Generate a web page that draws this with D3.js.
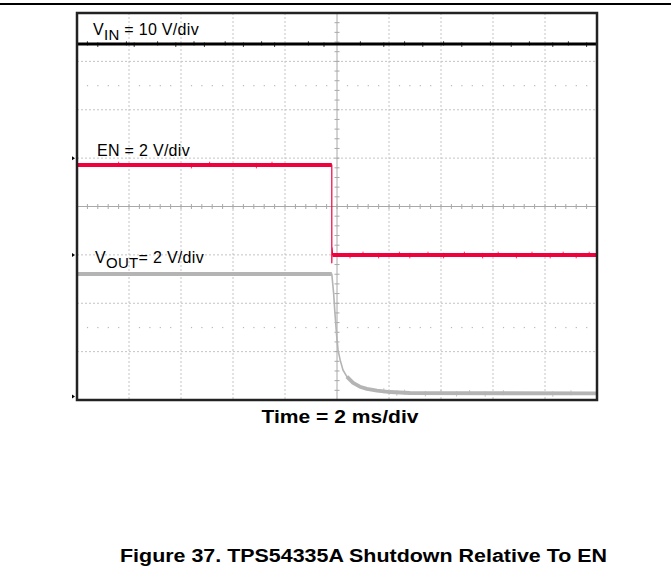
<!DOCTYPE html>
<html>
<head>
<meta charset="utf-8">
<script src="https://cdn.jsdelivr.net/npm/d3@7"></script>
<style>
  body { margin: 0; background: #fff; }
  text { font-family: "Liberation Sans", Arial, sans-serif; }
</style>
</head>
<body>
<div class="div_d3"></div>
<script>
// time axis in ms, 2 ms/div, trigger in the middle
const timeDomain = [-10, 10]
const divDomain = [-4, 4]

// channels: volts per division and ground marker position (div)
const channelNames = ["VIN", "EN", "VOUT"]
const voltsPerDiv = [10, 2, 2]
const groundDiv = [1, -1, -3.93]
const traceColors = ["#000000", "#f0003c", "#b4b4b4"]

// VIN stays flat
const vinTime = [-10, 10]
const vinVolts = [23.6, 23.6]

// EN drops just before the trigger
const enTime = [-10, -0.2, -0.2, -0.19, -0.17, 10]
const enVolts = [3.72, 3.72, -0.33, 0.3, 0.0, 0.0]

// VOUT discharge
const voutTime = [-10, -0.2, -0.13, -0.08, -0.01, 0.04, 0.12, 0.23, 0.38, 0.62, 0.88, 1.15, 1.54, 2.04, 2.8, 10]
const voutVolts = [5.07, 5.07, 4.28, 3.46, 2.48, 1.93, 1.52, 1.10, 0.83, 0.57, 0.41, 0.32, 0.25, 0.19, 0.15, 0.13]

// small noise spikes seen on the traces (ms)
const vinGlitches = [-9.6, -9.2, -8.1, -7.8, -6.9, -6.2, -5.5, -5.1, -4.3, -3.6, -2.9, -2.4, -1.1, -0.5, 0.9, 1.8, 2.6, 3.3, 4.1, 4.8, 5.9, 6.7, 7.4, 8.3, 8.9, 9.6]
const enGlitches = [-8.4, -5.6, -4.9, -3.1, -2.5, 0.5, 1.0, 1.6, 2.4, 2.8, 3.5, 4.1, 4.9, 5.6, 6.2, 6.9, 7.5, 8.2, 8.7, 9.2, 9.7]
const voutGlitches = [1.8, 2.3, 2.6, 3.4, 4.0, 4.6, 5.1, 5.7, 6.4, 8.3, 9.0]

const labels = [
  {main: "V", sub: "IN", rest: " = 10 V/div"},
  {main: "EN = 2 V/div", sub: "", rest: ""},
  {main: "V", sub: "OUT", rest: "= 2 V/div"}
]
const labelDiv = [3.55, 1.05, -1.17]

const margin = {top: 13, right: 74, bottom: 178, left: 77},
      width = 671 - margin.left - margin.right,
      height = 578 - margin.top - margin.bottom;

const svg = d3.select(".div_d3")
  .append("svg")
    .attr("width", 671)
    .attr("height", 578)

// page rule at the top
svg.append("line")
  .attr("x1", 0).attr("x2", 671)
  .attr("y1", 4).attr("y2", 4)
  .style("stroke", "#000").style("stroke-width", 2)

const g = svg.append("g")
  .attr("transform", `translate(${margin.left},${margin.top})`)

const x = d3.scaleLinear().domain(timeDomain).range([0, width])
const y = d3.scaleLinear().domain(divDomain).range([height, 0])

// graticule
const gridX = d3.range(-10, 10.01, 2)
const gridY = d3.range(-4, 4.01, 1)

g.append("g").selectAll("line")
  .data(gridX.filter(d => d != 0))
  .enter().append("line")
    .attr("x1", d => x(d)).attr("x2", d => x(d))
    .attr("y1", 0).attr("y2", height)
    .style("stroke", "#c4c4c4")
    .style("stroke-dasharray", "2,2")

g.append("g").selectAll("line")
  .data(gridY.filter(d => d != 0))
  .enter().append("line")
    .attr("x1", 0).attr("x2", width)
    .attr("y1", d => y(d)).attr("y2", d => y(d))
    .style("stroke", "#c4c4c4")
    .style("stroke-dasharray", "2,2")

// dotted marker rows
const dotRows = [2.5, -2.5]
const dotX = d3.range(-9.6, 9.7, 0.4).filter(d => Math.abs(d % 2) > 0.1 && Math.abs(d % 2) < 1.9)
dotRows.forEach(function(r) {
  g.append("g").selectAll("rect")
    .data(dotX)
    .enter().append("rect")
      .attr("x", d => x(d) - 0.5).attr("y", y(r) - 0.5)
      .attr("width", 1.2).attr("height", 1.2)
      .style("fill", "#b8b8b8")
})

// center axes with minor ticks
g.append("line")
  .attr("x1", x(0)).attr("x2", x(0)).attr("y1", 0).attr("y2", height)
  .style("stroke", "#a8a8a8")
g.append("line")
  .attr("x1", 0).attr("x2", width).attr("y1", y(0)).attr("y2", y(0))
  .style("stroke", "#a8a8a8")

g.append("g").selectAll("line")
  .data(d3.range(-10, 10.01, 0.4))
  .enter().append("line")
    .attr("x1", d => x(d)).attr("x2", d => x(d))
    .attr("y1", y(0) - 2.5).attr("y2", y(0) + 2.5)
    .style("stroke", "#a8a8a8")

g.append("g").selectAll("line")
  .data(d3.range(-4, 4.01, 0.2))
  .enter().append("line")
    .attr("x1", x(0) - 2.5).attr("x2", x(0) + 2.5)
    .attr("y1", d => y(d)).attr("y2", d => y(d))
    .style("stroke", "#a8a8a8")

// traces
function toDiv(ch, v) { return groundDiv[ch] + v / voltsPerDiv[ch] }

// thin stroke for the fast edges, thick for the settled parts (index ranges)
const traces = [
  {ch: 0, t: vinTime, v: vinVolts, w: 1, thick: [[0, 1]], tw: 3, glitch: vinGlitches},
  {ch: 1, t: enTime, v: enVolts, w: 1.2, thick: [[0, 1], [4, 5]], tw: 4, glitch: enGlitches},
  {ch: 2, t: voutTime, v: voutVolts, w: 1.6, thick: [[0, 1], [8, 15]], tw: 3.8, glitch: voutGlitches}
]

const line = d3.line()
  .x(d => x(d[0]))
  .y(d => y(d[1]))

traces.forEach(function(tr) {
  let pts = tr.t.map((t, i) => [t, toDiv(tr.ch, tr.v[i])])
  g.append("path")
    .datum(pts)
    .attr("d", line)
    .style("fill", "none")
    .style("stroke", traceColors[tr.ch])
    .style("stroke-width", tr.w)
    .style("stroke-linejoin", "round")

  tr.thick.forEach(function(r) {
    g.append("path")
      .datum(pts.slice(r[0], r[1] + 1))
      .attr("d", line)
      .style("fill", "none")
      .style("stroke", traceColors[tr.ch])
      .style("stroke-width", tr.tw)
      .style("stroke-linejoin", "round")
  })

  // little spikes on the flat parts
  let interp = d3.scaleLinear().domain(tr.t).range(tr.v)
  g.append("g").selectAll("line")
    .data(tr.glitch)
    .enter().append("line")
      .attr("x1", d => x(d)).attr("x2", d => x(d))
      .attr("y1", (d, i) => y(toDiv(tr.ch, interp(d))) - tr.tw / 2 - (i % 2 ? 0 : 1.2))
      .attr("y2", (d, i) => y(toDiv(tr.ch, interp(d))) + tr.tw / 2 + (i % 2 ? 1.5 : 0))
      .style("stroke", traceColors[tr.ch])
      .style("stroke-width", 0.8)
})

// ground markers at the left edge
g.append("g").selectAll("path")
  .data(groundDiv)
  .enter().append("path")
    .attr("d", d => `M-5,${y(d) - 2}L-2,${y(d)}L-5,${y(d) + 2}Z`)
    .style("fill", "#000")

// frame
g.append("rect")
  .attr("x", 0).attr("y", 0)
  .attr("width", width).attr("height", height)
  .style("fill", "none")
  .style("stroke", "#222")
  .style("stroke-width", 2.5)

// channel labels
const labelX = [16, 20, 18]
labels.forEach(function(l, i) {
  let t = g.append("text")
    .attr("x", labelX[i])
    .attr("y", y(labelDiv[i]))
    .style("font-size", "16px")
    .style("letter-spacing", "0.3px")
    .style("fill", "#000")
  t.append("tspan").text(l.main)
  if (l.sub) {
    t.append("tspan").attr("dy", 5).style("font-size", "15px").text(l.sub)
    t.append("tspan").attr("dy", -5).text(l.rest)
  }
})

// axis caption
svg.append("text")
  .attr("x", margin.left + width / 2 + 3)
  .attr("y", 423)
  .attr("text-anchor", "middle")
  .attr("textLength", 157)
  .attr("lengthAdjust", "spacingAndGlyphs")
  .style("font-size", "18px")
  .style("font-weight", "bold")
  .text("Time = 2 ms/div")

// figure caption
svg.append("text")
  .attr("x", 120)
  .attr("y", 562)
  .attr("textLength", 487)
  .attr("lengthAdjust", "spacingAndGlyphs")
  .style("font-size", "18px")
  .style("font-weight", "bold")
  .text("Figure 37. TPS54335A Shutdown Relative To EN")
</script>
</body>
</html>
